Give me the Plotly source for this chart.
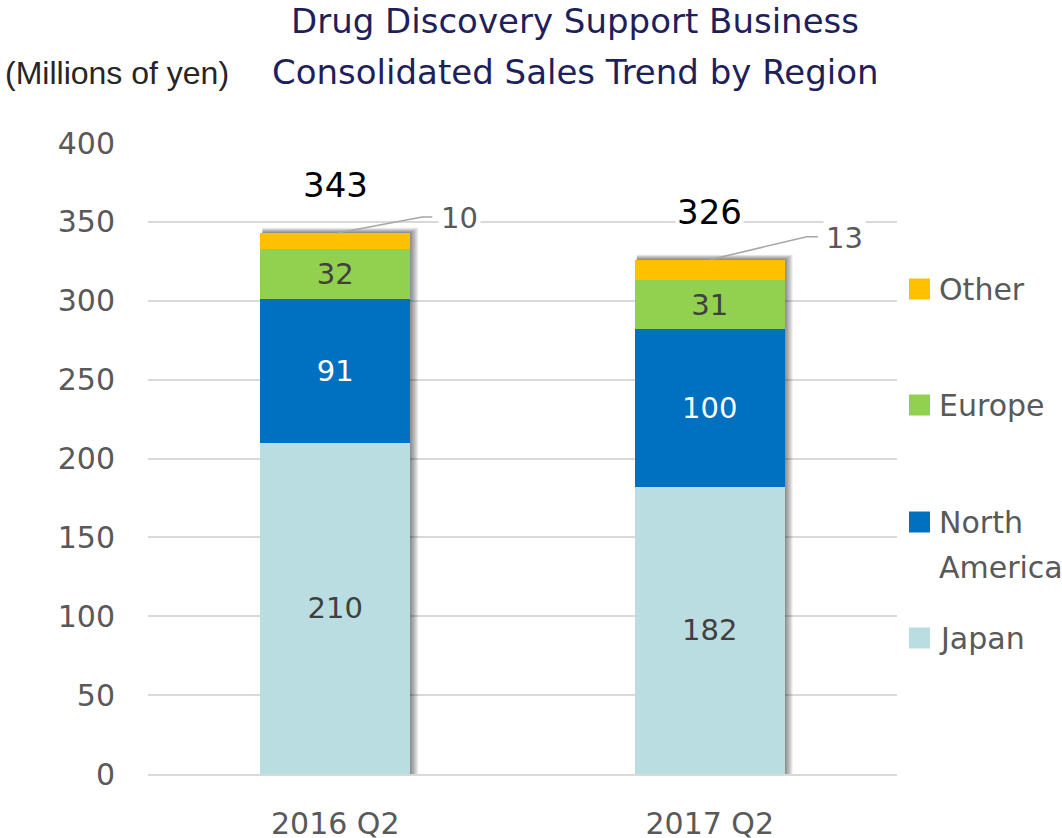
import plotly.graph_objects as go

# ---------------- data ----------------
categories = ["2016 Q2", "2017 Q2"]
japan = [210, 182]
north_america = [91, 100]
europe = [32, 31]
other = [10, 13]
totals = [343, 326]
y_ticks = [0, 50, 100, 150, 200, 250, 300, 350, 400]

# ---------------- layout geometry (pixels) ----------------
W, H = 1062, 838
L, R, T, B = 148, 897, 143, 774  # plot area edges


def px_x(px):
    return (px - L) / (R - L)


def px_y(py):
    return (B - py) / (B - T)


FONT = "DejaVu Sans, Verdana, sans-serif"
UNIT_FONT = "Liberation Sans, Arial, sans-serif"
GREY = "#595959"
NAVY = "#1F1F5C"

series = [
    ("Japan", japan, "#B9DDE1", "#404040"),
    ("North America", north_america, "#0070C0", "#FFFFFF"),
    ("Europe", europe, "#92D050", "#404040"),
    ("Other", other, "#FFC000", None),
]

fig = go.Figure()
for name, vals, color, tcolor in series:
    fig.add_trace(go.Bar(
        name=name,
        x=categories,
        y=vals,
        marker=dict(color=color, line=dict(width=0)),
        text=[str(v) for v in vals] if tcolor else None,
        textposition="inside" if tcolor else "none",
        insidetextanchor="middle",
        textangle=0,
        textfont=dict(family=FONT, size=29, color=tcolor if tcolor else GREY),
        width=0.4,
        showlegend=False,
        cliponaxis=False,
    ))

annotations = []
shapes = []

# soft drop shadow behind each stacked bar
for cat, tot in zip(categories, totals):
    for i in range(1, 9):
        shapes.append(dict(
            type="rect", xref="x", yref="y", xsizemode="pixel",
            xanchor=cat, x0=-73, x1=75 + i, y0=0, y1=tot + i * 0.4,
            fillcolor="rgba(0,0,0,0.065)", line=dict(width=0), layer="between",
        ))

# totals above bars
for cat, tot in zip(categories, totals):
    annotations.append(dict(
        x=cat, y=tot, xref="x", yref="y", text=str(tot), showarrow=False,
        yanchor="middle", yshift=48, bgcolor="white",
        font=dict(family=FONT, size=34, color="#000000"),
    ))

# "Other" labels with leader lines
leader = [((2, 0), (87, 16), (97, 16), 124, 15), ((0, 0), (97, 23), (108, 23), 135, 22)]
for cat, tot, val, (p0, p1, p2, tx, ty) in zip(categories, totals, other, leader):
    shapes.append(dict(
        type="path", xref="x", yref="y", xsizemode="pixel", ysizemode="pixel",
        xanchor=cat, yanchor=tot,
        path=f"M{p0[0]},{p0[1]} L{p1[0]},{p1[1]} L{p2[0]},{p2[1]}",
        line=dict(color="#A6A6A6", width=1.5),
    ))
    annotations.append(dict(
        x=cat, y=tot, xref="x", yref="y", text=str(val), showarrow=False,
        xshift=tx, yshift=ty, bgcolor="white", borderpad=2,
        font=dict(family=FONT, size=29, color=GREY),
    ))

# legend (manual, to match large square swatches and spacing)
legend_items = [("Other", "#FFC000", 289), ("Europe", "#92D050", 405),
                ("North America", "#0070C0", 522), ("Japan", "#B9DDE1", 638)]
for name, color, cy in legend_items:
    shapes.append(dict(
        type="rect", xref="paper", yref="paper",
        x0=px_x(909), x1=px_x(930), y0=px_y(cy + 10.5), y1=px_y(cy - 10.5),
        fillcolor=color, line=dict(width=0),
    ))
    words = name.split(" ")
    for i, w in enumerate(words):
        annotations.append(dict(
            x=px_x(937), y=px_y(cy + i * 45), xref="paper", yref="paper",
            text=w, showarrow=False, xanchor="left", yanchor="middle",
            font=dict(family=FONT, size=30, color=GREY),
        ))

# title second line & unit label
annotations.append(dict(
    x=px_x(575), y=px_y(72), xref="paper", yref="paper",
    text="Consolidated Sales Trend by Region", showarrow=False,
    xanchor="center", yanchor="middle",
    font=dict(family=FONT, size=34, color=NAVY),
))
annotations.append(dict(
    x=px_x(3), y=px_y(73), xref="paper", yref="paper",
    text="(Millions of yen)", showarrow=False,
    xanchor="left", yanchor="middle",
    font=dict(family=UNIT_FONT, size=32, color="#262626"),
))

fig.update_layout(
    width=W, height=H,
    barmode="stack",
    plot_bgcolor="white", paper_bgcolor="white",
    margin=dict(l=L, r=W - R, t=T, b=H - B, autoexpand=False),
    font=dict(family=FONT, color=GREY),
    title=dict(
        text="Drug Discovery Support Business",
        x=575 / W, xanchor="center", xref="container",
        y=1 - 21 / H, yanchor="middle", yref="container",
        font=dict(family=FONT, size=34, color=NAVY),
    ),
    xaxis=dict(
        type="category", range=[-0.5, 1.5], showgrid=False, zeroline=False,
        showline=True, linecolor="#D9D9D9", linewidth=1.5, ticks="",
        tickfont=dict(family=FONT, size=30, color=GREY),
        ticklabelstandoff=22,
    ),
    yaxis=dict(
        range=[0, 400], tickvals=y_ticks, showgrid=True, gridcolor="#D9D9D9",
        gridwidth=1.5, zeroline=False, showline=False, ticks="",
        tickfont=dict(family=FONT, size=30, color=GREY),
        ticklabelstandoff=32,
    ),
    annotations=annotations,
    shapes=shapes,
    showlegend=False,
)

fig.write_html("out.html")
